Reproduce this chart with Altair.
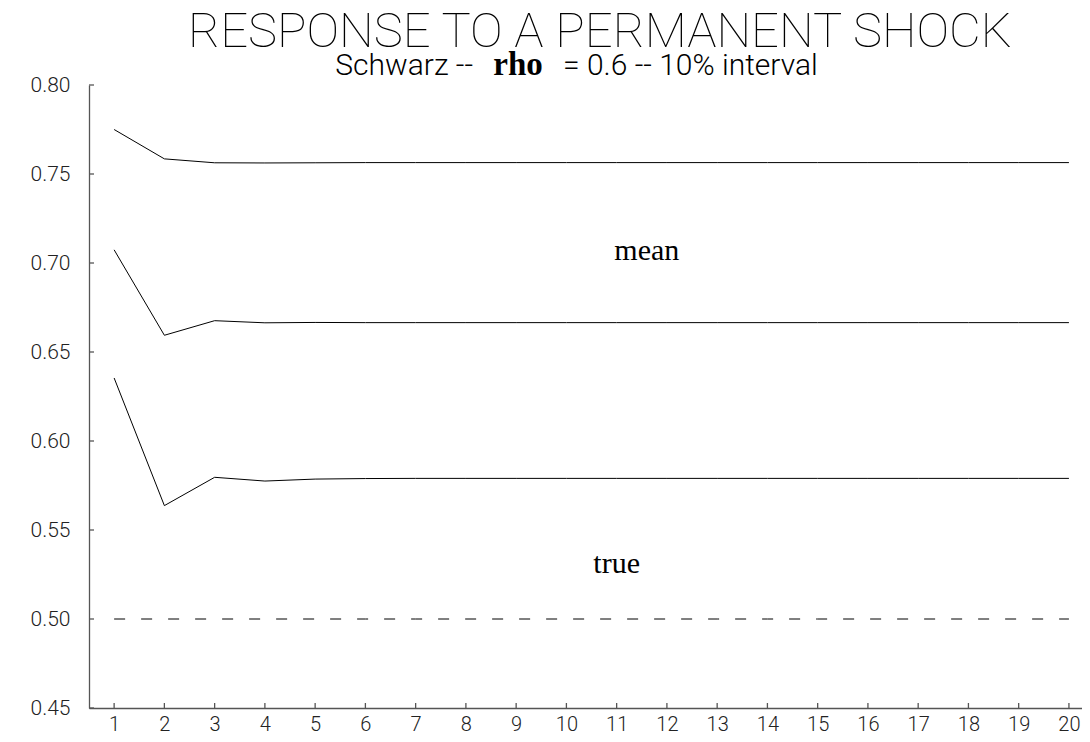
import altair as alt
import pandas as pd

steps = [1, 2, 3, 4, 5, 6, 7, 8, 9, 10, 11, 12, 13, 14, 15, 16, 17, 18, 19, 20]
upper = [0.7750, 0.7585, 0.7563, 0.7562, 0.7563, 0.7564, 0.7564, 0.7564, 0.7564, 0.7564,
         0.7564, 0.7564, 0.7564, 0.7564, 0.7564, 0.7564, 0.7564, 0.7564, 0.7564, 0.7564]
mean = [0.7074, 0.6594, 0.6676, 0.6664, 0.6666, 0.6665, 0.6665, 0.6665, 0.6665, 0.6665,
        0.6665, 0.6665, 0.6665, 0.6665, 0.6665, 0.6665, 0.6665, 0.6665, 0.6665, 0.6665]
lower = [0.6354, 0.5637, 0.5796, 0.5775, 0.5786, 0.5789, 0.5790, 0.5790, 0.5790, 0.5790,
         0.5790, 0.5790, 0.5790, 0.5790, 0.5790, 0.5790, 0.5790, 0.5790, 0.5790, 0.5790]
true_value = [0.5, 0.5, 0.5, 0.5, 0.5, 0.5, 0.5, 0.5, 0.5, 0.5,
              0.5, 0.5, 0.5, 0.5, 0.5, 0.5, 0.5, 0.5, 0.5, 0.5]
y_ticks = [0.45, 0.50, 0.55, 0.60, 0.65, 0.70, 0.75, 0.80]
label_text = ["mean", "true"]
label_x = [11.6, 11.0]
label_y = [0.7015, 0.5256]
title_text = "RESPONSE TO A PERMANENT SHOCK"
sub_left = "Schwarz --"
sub_mid = "rho"
sub_right = "= 0.6 -- 10% interval"

df = pd.DataFrame({
    "step": steps * 3,
    "value": upper + mean + lower,
    "series": ["upper"] * 20 + ["mean"] * 20 + ["lower"] * 20,
})
df_true = pd.DataFrame({"step": steps, "value": true_value})
df_yt = pd.DataFrame({"v": y_ticks})
df_xt = pd.DataFrame({"s": steps})
df_lab = pd.DataFrame({"label": label_text, "x": label_x, "y": label_y})

W, H = 993, 623
TOP = 77
xscale = alt.Scale(domain=[0.5, 20.26], nice=False, zero=False)
yscale = alt.Scale(domain=[0.45, 0.80], nice=False, zero=False)
xaxis = alt.Axis(values=steps, title=None, labelPadding=6, labelFlush=False,
                 ticks=False, grid=False, labelFontSize=20)
yaxis = alt.Axis(values=y_ticks, format=".2f", title=None, labelPadding=19,
                 ticks=False, grid=False, labelFontSize=21)

lines = alt.Chart(df).mark_line(color="black", strokeWidth=1).encode(
    x=alt.X("step:Q", scale=xscale, axis=xaxis),
    y=alt.Y("value:Q", scale=yscale, axis=yaxis),
    detail="series:N",
)
true_line = alt.Chart(df_true).mark_line(color="black", strokeWidth=1, strokeDash=[11, 16]).encode(
    x=alt.X("step:Q", scale=xscale, axis=xaxis),
    y=alt.Y("value:Q", scale=yscale, axis=yaxis),
)
ytick_rules = alt.Chart(df_yt).mark_rule(color="#555", strokeWidth=1.3).encode(
    y=alt.Y("v:Q", scale=yscale, axis=yaxis),
    x=alt.value(0), x2=alt.value(5),
)
xtick_rules = alt.Chart(df_xt).mark_rule(color="#555", strokeWidth=1.3).encode(
    x=alt.X("s:Q", scale=xscale, axis=xaxis),
    y=alt.value(H), y2=alt.value(H - 5),
)
labels = alt.Chart(df_lab).mark_text(font="Liberation Serif", fontSize=30, align="center",
                                     baseline="alphabetic", color="black").encode(
    x=alt.X("x:Q", scale=xscale, axis=xaxis),
    y=alt.Y("y:Q", scale=yscale, axis=yaxis),
    text="label:N",
)

def piece(txt, x, y, **kw):
    return alt.Chart(pd.DataFrame({"t": [txt]})).mark_text(baseline="alphabetic", color="black", **kw).encode(
        x=alt.value(x), y=alt.value(y), text="t:N")

title = piece(title_text, 511, -38, font="Roboto", fontWeight=100, fontSize=49, align="center")
s1 = piece(sub_left, 384, -10, font="Roboto", fontWeight=300, fontSize=30, align="right")
s2 = piece(sub_mid, 429, -10, font="Liberation Serif", fontWeight="bold", fontSize=33, align="center")
s3 = piece(sub_right, 474, -10, font="Roboto", fontWeight=300, fontSize=30, align="left")

chart = alt.layer(lines, true_line, ytick_rules, xtick_rules, labels, title, s1, s2, s3).properties(
    width=W, height=H,
    autosize=alt.AutoSizeParams(type="none"),
    padding={"left": 81, "top": TOP, "right": 0, "bottom": 26},
).configure_view(stroke=None).configure_axis(
    domainColor="#555", domainWidth=1.3, labelFont="Roboto", labelFontWeight=300, labelColor="#222",
)

chart.save("out.html", embed_options={"renderer": "svg", "actions": False})
